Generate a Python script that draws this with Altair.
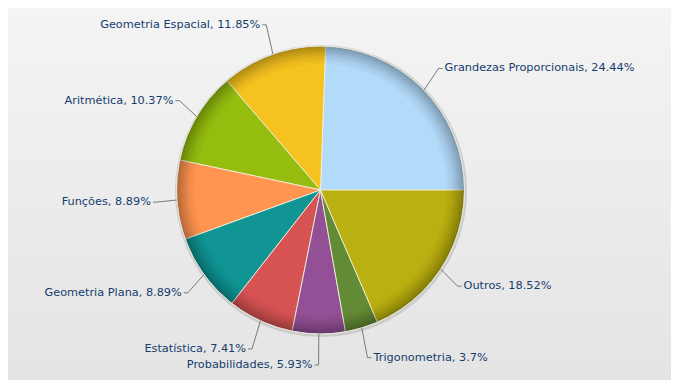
import math
import altair as alt
import pandas as pd

# ---- data (source order, drawn counter-clockwise from 3 o'clock) ----
categories = ["Grandezas Proporcionais", "Geometria Espacial", "Aritmética", "Funções",
              "Geometria Plana", "Estatística", "Probabilidades", "Trigonometria", "Outros"]
percents = [24.44, 11.85, 10.37, 8.89, 8.89, 7.41, 5.93, 3.7, 18.52]
colors = ["#B2DAF9", "#F6C220", "#94BD10", "#FF9550", "#109494",
          "#D75252", "#935096", "#638A35", "#BBB011"]

df = pd.DataFrame({"idx": list(range(len(categories))), "cat": categories, "value": percents})
one = pd.DataFrame({"k": [0]})  # single row for decorative layers

W, H = 663, 372
CX, CY = 312.5, 182.0
R = 144
RLX, RLY = 164, 175  # label anchor radii

# rim shading rings (inner radius, opacity)
ring_inner = [126, 129, 132, 134, 136, 138, 140, 142]
ring_alpha = [0.025, 0.03, 0.035, 0.04, 0.04, 0.045, 0.05, 0.06]

base = alt.Chart(df)
deco = alt.Chart(one)

bg = deco.mark_rect(
    fill=alt.LinearGradient(gradient="linear", x1=0, y1=0, x2=0, y2=1,
                            stops=[alt.GradientStop(color="#f4f4f4", offset=0),
                                   alt.GradientStop(color="#e4e4e4", offset=1)])
).encode(x=alt.value(0), x2=alt.value(W), y=alt.value(0), y2=alt.value(H))

shadow = deco.mark_arc(radius=R + 2, theta=0, theta2=2 * math.pi, fill="#c4c4c4",
                       opacity=0.8).encode(x=alt.value(CX + 0.5), y=alt.value(CY + 1))

slices = base.mark_arc(radius=R, stroke="#f0f0dc", strokeWidth=1, strokeOpacity=0.9).encode(
    theta=alt.Theta("value:Q", stack=True,
                    scale=alt.Scale(range=[2.5 * math.pi, 0.5 * math.pi])),
    order=alt.Order("idx:Q"),
    color=alt.Color("cat:N", scale=alt.Scale(domain=categories, range=colors), legend=None),
    x=alt.value(CX), y=alt.value(CY),
)

rings = [
    deco.mark_arc(radius=R, radius2=ri, theta=0, theta2=2 * math.pi, fill="#000000",
                  opacity=op).encode(x=alt.value(CX), y=alt.value(CY))
    for ri, op in zip(ring_inner, ring_alpha)
]

rim = deco.mark_arc(radius=R, theta=0, theta2=2 * math.pi, fill="transparent",
                    stroke="#e6e6dc", strokeWidth=1).encode(x=alt.value(CX), y=alt.value(CY))

geo = base.transform_window(
    cum="sum(value)", sort=[alt.SortField("idx")], frame=[None, 0]
).transform_calculate(
    mid="datum.cum - datum.value / 2",
).transform_calculate(
    a="PI / 2 - 2 * PI * datum.mid / 100",
).transform_calculate(
    x1=f"{R} * sin(datum.a)", y1=f"{R} * cos(datum.a)",
    x2=f"{RLX} * sin(datum.a)", y2=f"{RLY} * cos(datum.a)",
    label="datum.cat + ', ' + datum.value + '%'",
).transform_calculate(
    side="datum.x2 >= 0 ? 1 : -1",
).transform_calculate(
    x3="datum.x2 + datum.side * 4",
)

xs = alt.Scale(domain=[-CX, W - CX], nice=False, zero=False)
ys = alt.Scale(domain=[-(H - CY), CY], nice=False, zero=False)

lead1 = geo.mark_rule(color="#7a7a7a", strokeWidth=1).encode(
    x=alt.X("x1:Q", scale=xs, axis=None), y=alt.Y("y1:Q", scale=ys, axis=None),
    x2="x2:Q", y2="y2:Q")
lead2 = geo.mark_rule(color="#7a7a7a", strokeWidth=1).encode(
    x=alt.X("x2:Q", scale=xs, axis=None), y=alt.Y("y2:Q", scale=ys, axis=None),
    x2="x3:Q", y2="y2:Q")

font = dict(font="DejaVu Sans", fontSize=11.3, color="#143d6e", baseline="middle")
text_r = geo.transform_filter("datum.side > 0").mark_text(align="left", dx=2, **font).encode(
    x=alt.X("x3:Q", scale=xs, axis=None), y=alt.Y("y2:Q", scale=ys, axis=None), text="label:N")
text_l = geo.transform_filter("datum.side < 0").mark_text(align="right", dx=-2, **font).encode(
    x=alt.X("x3:Q", scale=xs, axis=None), y=alt.Y("y2:Q", scale=ys, axis=None), text="label:N")

chart = alt.layer(bg, shadow, slices, *rings, rim, lead1, lead2, text_r, text_l).properties(
    width=W, height=H, padding=0, autosize=alt.AutoSizeParams(type="none"),
    background="#eeeeee",
).configure_view(stroke=None)

chart.save("out.html", embed_options={"renderer": "svg", "actions": False})
